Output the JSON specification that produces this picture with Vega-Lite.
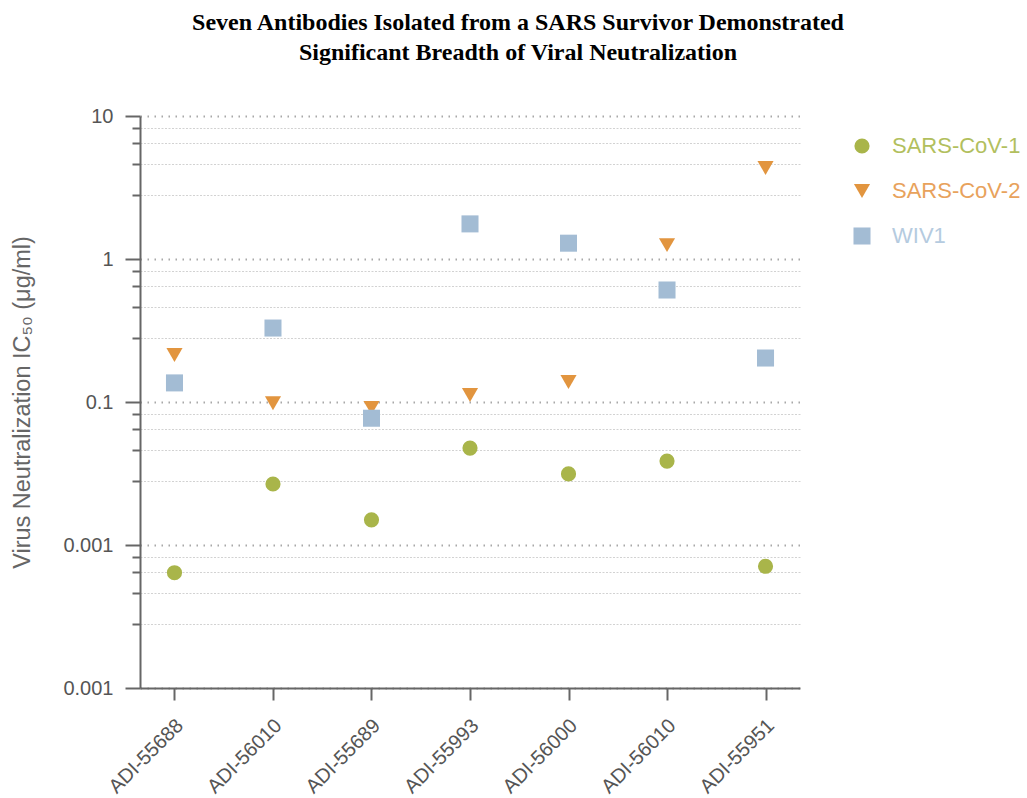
{
  "$schema": "https://vega.github.io/schema/vega-lite/v6.json",
  "width": 660,
  "height": 572,
  "autosize": {"type": "none"},
  "padding": {"left": 140, "top": 116, "right": 227, "bottom": 110},
  "background": "white",
  "title": {
    "text": ["Seven Antibodies Isolated from a SARS Survivor Demonstrated", "Significant Breadth of Viral Neutralization"],
    "font": "Liberation Serif",
    "fontSize": 24,
    "fontWeight": "bold",
    "color": "#000000",
    "lineHeight": 30,
    "anchor": "middle",
    "frame": "group",
    "dx": 48,
    "offset": 41
  },
  "config": {"view": {"stroke": null}},
  "data": {
    "values": [
      {"antibody": "ADI-55688", "virus": "SARS-CoV-1", "ic50": 0.0064},
      {"antibody": "ADI-55688", "virus": "SARS-CoV-2", "ic50": 0.213},
      {"antibody": "ADI-55688", "virus": "WIV1", "ic50": 0.136},
      {"antibody": "ADI-56010", "virus": "SARS-CoV-1", "ic50": 0.0267},
      {"antibody": "ADI-56010", "virus": "SARS-CoV-2", "ic50": 0.098},
      {"antibody": "ADI-56010", "virus": "WIV1", "ic50": 0.329},
      {"antibody": "ADI-55689", "virus": "SARS-CoV-1", "ic50": 0.015},
      {"antibody": "ADI-55689", "virus": "SARS-CoV-2", "ic50": 0.091},
      {"antibody": "ADI-55689", "virus": "WIV1", "ic50": 0.077},
      {"antibody": "ADI-55993", "virus": "SARS-CoV-1", "ic50": 0.0476},
      {"antibody": "ADI-55993", "virus": "SARS-CoV-2", "ic50": 0.112},
      {"antibody": "ADI-55993", "virus": "WIV1", "ic50": 1.76},
      {"antibody": "ADI-56000", "virus": "SARS-CoV-1", "ic50": 0.0314},
      {"antibody": "ADI-56000", "virus": "SARS-CoV-2", "ic50": 0.138},
      {"antibody": "ADI-56000", "virus": "WIV1", "ic50": 1.29},
      {"antibody": "ADI-56010#2", "virus": "SARS-CoV-1", "ic50": 0.0386},
      {"antibody": "ADI-56010#2", "virus": "SARS-CoV-2", "ic50": 1.25},
      {"antibody": "ADI-56010#2", "virus": "WIV1", "ic50": 0.607},
      {"antibody": "ADI-55951", "virus": "SARS-CoV-1", "ic50": 0.0071},
      {"antibody": "ADI-55951", "virus": "SARS-CoV-2", "ic50": 4.33},
      {"antibody": "ADI-55951", "virus": "WIV1", "ic50": 0.203}
    ]
  },
  "mark": {"type": "point", "filled": true, "opacity": 1},
  "encoding": {
    "x": {
      "field": "antibody",
      "type": "nominal",
      "sort": null,
      "scale": {"type": "point", "padding": 0.35},
      "axis": {
        "title": null,
        "labelAngle": -45,
        "labelAlign": "right",
        "labelBaseline": "top",
        "labelExpr": "split(datum.label, '#')[0]",
        "labelFont": "Liberation Sans",
        "labelFontSize": 20,
        "labelColor": "#555555",
        "labelPadding": 15,
        "labelOffset": -2,
        "tickSize": 12,
        "tickWidth": 2,
        "tickColor": "#666666",
        "domainColor": "#666666",
        "domainWidth": 2,
        "grid": false
      }
    },
    "y": {
      "field": "ic50",
      "type": "quantitative",
      "scale": {"type": "log", "domain": [0.001, 10], "nice": false},
      "axis": {
        "title": "Virus Neutralization IC₅₀  (μg/ml)",
        "titleFont": "Liberation Sans",
        "titleFontSize": 23.5,
        "titleFontWeight": "normal",
        "titleColor": "#666666",
        "titlePadding": 28,
        "values": [10, 8.24, 6.45, 4.63, 2.81, 1, 0.824, 0.645, 0.463, 0.281, 0.1, 0.0824, 0.0645, 0.0463, 0.0281, 0.01, 0.00824, 0.00645, 0.00463, 0.00281, 0.001],
        "labelExpr": "datum.value == 10 ? '10' : datum.value == 1 ? '1' : datum.value == 0.1 ? '0.1' : (datum.value == 0.01 || datum.value == 0.001) ? '0.001' : ''",
        "labelFont": "Liberation Sans",
        "labelFontSize": 20,
        "labelColor": "#555555",
        "labelPadding": 12,
        "labelOverlap": false,
        "labelBound": false,
        "tickSize": {"condition": {"test": "indexof([10, 1, 0.1, 0.01, 0.001], datum.value) >= 0", "value": 15}, "value": 8},
        "tickWidth": 2,
        "tickColor": "#666666",
        "domainColor": "#666666",
        "domainWidth": 2,
        "grid": true,
        "gridColor": {"condition": {"test": "indexof([10, 1, 0.1, 0.01, 0.001], datum.value) >= 0", "value": "#a8a8a8"}, "value": "#d2d2d2"},
        "gridDash": {"condition": {"test": "indexof([10, 1, 0.1, 0.01, 0.001], datum.value) >= 0", "value": [1.5, 5.5]}, "value": [2, 1.5]},
        "gridWidth": {"condition": {"test": "indexof([10, 1, 0.1, 0.01, 0.001], datum.value) >= 0", "value": 1.8}, "value": 1}
      }
    },
    "color": {
      "field": "virus",
      "type": "nominal",
      "scale": {"domain": ["SARS-CoV-1", "SARS-CoV-2", "WIV1"], "range": ["#a9b54a", "#e2953f", "#a3bcd4"]},
      "legend": {
        "title": null,
        "orient": "none",
        "legendX": 711,
        "legendY": 19,
        "padding": 0,
        "labelFont": "Liberation Sans",
        "labelFontSize": 22,
        "labelOffset": 19,
        "rowPadding": 23,
        "symbolOpacity": 1,
        "encode": {
          "labels": {
            "update": {
              "fill": {"signal": "datum.value === 'SARS-CoV-1' ? '#b2bf5e' : datum.value === 'SARS-CoV-2' ? '#e8a25c' : '#b5cbe0'"}
            }
          }
        }
      }
    },
    "shape": {
      "field": "virus",
      "type": "nominal",
      "scale": {"domain": ["SARS-CoV-1", "SARS-CoV-2", "WIV1"], "range": ["circle", "triangle-down", "square"]}
    },
    "size": {
      "field": "virus",
      "type": "nominal",
      "scale": {"domain": ["SARS-CoV-1", "SARS-CoV-2", "WIV1"], "range": [230, 290, 320]}
    }
  }
}
